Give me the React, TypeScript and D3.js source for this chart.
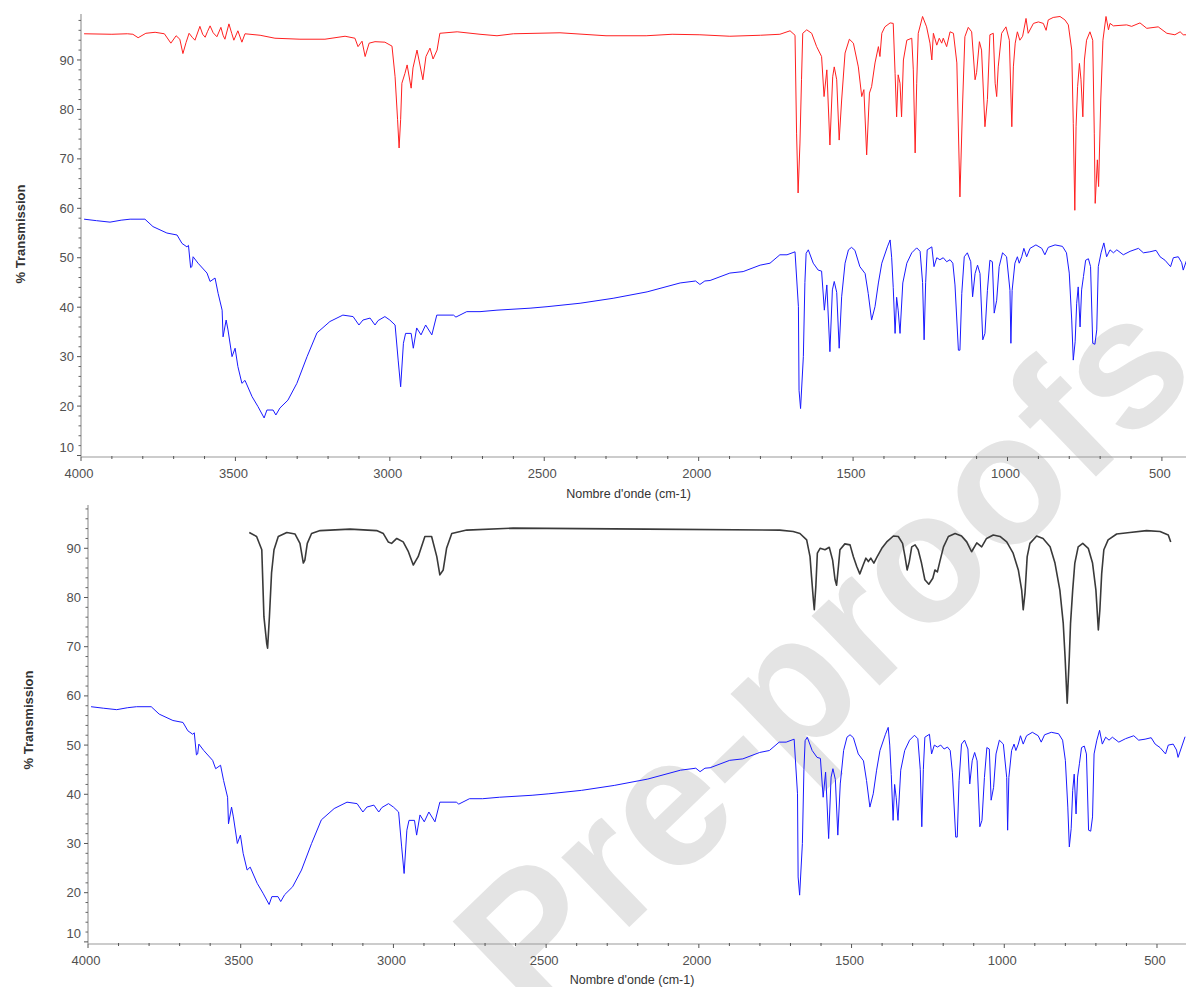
import React from 'react';
import * as d3 from 'd3';

type Pt = [number, number];

// Top panel, red spectrum (wavenumber cm-1, %T)
const redSpectrum: Pt[] = [
  [3990,95.3],[3900,95.2],[3850,95.3],[3832,95.2],[3815,94.5],[3790,95.4],[3760,95.6],[3730,95.3],[3709,93.4],[3692,94.9],
  [3680,94.2],[3670,91.3],[3660,93.5],[3650,95.4],[3640,94.6],[3631,94],[3615,96.8],[3606,95.2],[3598,94.6],[3590,95.8],
  [3582,96.9],[3572,95.5],[3560,94.7],[3547,96.6],[3540,95.0],[3534,94.2],[3521,97.3],[3512,95.4],[3505,94],[3492,95.9],
  [3479,93.6],[3469,95.3],[3420,95],[3372,94.4],[3291,94.2],[3210,94.2],[3145,94.8],[3113,94.4],[3103,92.7],[3090,93.8],
  [3080,90.7],[3067,93.4],[3048,93.7],[3016,93.6],[2993,92.8],[2983,86.6],[2975,78],[2970,72.2],[2965,78],[2961,85.3],
  [2951,87.3],[2944,89],[2931,84.3],[2925,88.4],[2912,92],[2893,86],[2883,90.7],[2870,92.4],[2860,90.2],[2847,92],
  [2838,95.4],[2782,95.7],[2708,95.2],[2653,94.9],[2600,95.3],[2449,95.5],[2300,94.9],[2170,94.9],[2086,95.2],[1996,95.1],
  [1899,94.8],[1800,95.0],[1737,95.2],[1704,95.9],[1688,95.0],[1683,75.2],[1678,63.1],[1672,73.2],[1667,86],[1663,95.4],
  [1650,96.1],[1634,95.4],[1618,92.7],[1602,90.7],[1594,82.6],[1585,88],[1575,72.8],[1566,86.6],[1561,88.6],[1553,86],
  [1545,73.8],[1537,81.9],[1526,91.4],[1512,94.2],[1499,93.4],[1483,88.6],[1472,82.6],[1465,84],[1456,70.8],[1447,83.3],
  [1440,84.6],[1429,89.4],[1418,92.7],[1413,90.7],[1407,95.4],[1397,96.7],[1380,97.5],[1370,97.4],[1364,87.3],[1359,78.5],
  [1354,87],[1348,85.3],[1343,78.5],[1337,90],[1326,94],[1310,94.4],[1305,88],[1299,71.2],[1294,85.3],[1289,95.4],
  [1275,98.8],[1262,96.7],[1251,93.4],[1245,90],[1240,95.4],[1229,93],[1221,94.4],[1213,93.4],[1208,94.4],[1197,92.7],
  [1186,95.7],[1175,95.4],[1164,89.4],[1154,62.3],[1145,81.9],[1138,94.7],[1127,96.6],[1116,95.7],[1105,86],[1100,87.5],
  [1091,93.7],[1084,92],[1073,76.5],[1065,82],[1057,95.1],[1046,95.4],[1040,85.3],[1035,82.6],[1030,88.6],[1019,95.4],
  [1005,96.7],[994,94],[986,76.5],[981,88.6],[975,93.4],[968,95.7],[960,94],[951,94.8],[940,98.4],[933,95.4],
  [916,97.4],[900,97.7],[884,97.4],[875,96],[868,98.1],[852,98.6],[830,98.8],[814,98.1],[803,97.1],[792,92],
  [787,77.2],[782,59.6],[778,76.5],[773,84.6],[767,89.3],[762,86],[756,78.5],[751,90],[744,94],[733,95.7],
  [724,94],[719,75.2],[716,61],[709,69.8],[705,64.4],[698,81.9],[691,94],[681,98.8],[673,96.1],[668,97.4],
  [657,96.9],[614,97.1],[598,96.8],[571,97.5],[549,96.4],[512,96.7],[484,95.4],[458,95.1],[441,95.7],[431,95.1],[422,95.1]
];

// Blue spectrum (same sample shown in both panels)
const blueSpectrum: Pt[] = [
  [3990,57.8],[3950,57.5],[3906,57.2],[3870,57.6],[3841,57.8],[3793,57.8],[3767,56.3],[3722,55.0],[3689,54.6],[3673,52.9],
  [3657,52.2],[3652,52.5],[3645,48.0],[3641,48.2],[3637,50.2],[3621,48.9],[3592,46.9],[3582,45.2],[3566,45.9],[3556,42.8],
  [3543,39.4],[3540,34.0],[3530,37.4],[3524,35.4],[3511,30.0],[3501,31.7],[3492,28.0],[3479,24.6],[3469,25.2],[3446,21.9],
  [3427,19.9],[3407,17.6],[3398,19.2],[3378,19.2],[3369,18.2],[3356,19.6],[3330,21.2],[3301,24.6],[3268,30.0],[3236,34.8],
  [3194,37.1],[3152,38.4],[3119,38.1],[3100,36.4],[3087,37.4],[3064,37.8],[3048,36.4],[3038,37.3],[3016,38.1],[3000,37.4],
  [2983,36.4],[2973,29.3],[2965,23.9],[2956,32.7],[2949,34.7],[2931,34.7],[2924,31.7],[2913,35.8],[2899,34.4],[2884,36.4],
  [2864,34.4],[2848,38.4],[2794,38.4],[2786,38.0],[2751,39.1],[2708,39.1],[2653,39.4],[2546,39.8],[2491,40.1],[2384,40.8],
  [2277,41.8],[2167,43.1],[2060,44.9],[2010,45.3],[1996,44.6],[1980,45.3],[1963,45.4],[1899,46.9],[1856,47.2],[1801,48.5],
  [1769,48.9],[1737,50.6],[1714,50.6],[1688,51.2],[1677,40.1],[1675,23.2],[1670,19.5],[1661,30],[1656,45],[1652,50.9],
  [1645,51.6],[1629,48.9],[1613,47.5],[1602,47.3],[1593,39.4],[1585,44.5],[1575,31.0],[1567,43.5],[1561,45.2],[1553,43],
  [1545,31.7],[1537,42.1],[1526,48.9],[1515,51.6],[1505,52.1],[1494,51.5],[1478,48.2],[1461,46.8],[1451,42.8],[1440,37.4],
  [1429,40.1],[1418,44.9],[1407,48.9],[1389,52.2],[1380,53.6],[1375,50],[1370,44],[1364,34.7],[1359,42],[1354,39.4],
  [1348,34.7],[1339,44.9],[1326,48.9],[1310,51],[1294,52],[1283,51.3],[1275,45],[1270,33.4],[1265,45],[1260,51.6],
  [1245,52.2],[1238,48.2],[1229,50],[1219,49.6],[1208,50],[1197,49.2],[1186,49.6],[1177,48.9],[1170,44.5],[1159,31.3],
  [1154,31.3],[1148,42.8],[1140,50.2],[1130,51],[1119,49.2],[1113,42.1],[1105,46.8],[1097,48.5],[1089,46.8],[1080,33.4],
  [1073,34.7],[1065,43.4],[1057,49.5],[1049,49.2],[1043,38.8],[1035,41.4],[1027,48.2],[1016,51],[1003,50.2],[992,43.4],
  [989,32.7],[985,43.4],[976,48.9],[968,50.2],[962,48.9],[954,50.2],[947,51.9],[938,50.2],[927,51.9],[908,52.6],
  [889,51.9],[879,50.6],[868,52.1],[846,52.6],[822,52.3],[809,51],[800,46.9],[792,37.4],[787,29.3],[781,33],
  [776,40.8],[771,44.1],[765,36.0],[760,43.5],[754,46.2],[747,49.5],[738,49.8],[731,48.2],[724,32.7],[717,32.5],
  [711,35.4],[706,48.2],[697,51],[688,53],[679,50.2],[668,51.6],[657,51],[646,51.6],[625,50.6],[603,51.3],
  [576,51.9],[560,51],[539,51.2],[519,51.5],[506,50.2],[490,49.5],[472,48.2],[463,50],[447,50.2],[436,49],
  [431,47.5],[408,51.7]
];

// Bottom panel, black spectrum
const blackSpectrum: Pt[] = [
  [3472,93.2],[3448,92.4],[3431,89.7],[3424,76.1],[3415,70.7],[3412,69.7],[3406,76.1],[3399,85],[3391,89.7],[3377,92.4],
  [3349,93.2],[3322,92.9],[3306,91],[3295,87],[3290,87.6],[3282,91],[3268,93],[3240,93.6],[3142,93.9],[3055,93.6],
  [3033,93],[3017,91.3],[3006,91],[2989,92],[2968,91.3],[2951,89.3],[2935,86.6],[2919,88.3],[2897,92.4],[2875,92.4],
  [2858,88.3],[2848,84.6],[2837,85.6],[2826,90],[2809,93],[2760,93.7],[2608,94.1],[2171,93.9],[1735,93.7],[1691,93.4],
  [1669,93],[1647,91.7],[1636,88.3],[1631,84.2],[1625,79.5],[1622,77.5],[1617,82.2],[1612,89],[1603,90],[1587,89.7],
  [1573,90.2],[1562,87.6],[1554,83.6],[1549,82.5],[1543,86.3],[1538,89.7],[1522,90.9],[1505,90.7],[1494,88.3],[1483,86.3],
  [1473,84.8],[1462,86.6],[1453,88],[1445,87.3],[1437,88],[1427,87],[1416,88.3],[1401,90],[1385,91.3],[1363,92.5],
  [1347,92.4],[1333,91],[1325,88.3],[1318,85.6],[1311,87.3],[1303,90.3],[1292,90.7],[1282,89.7],[1271,87],[1260,83.6],
  [1247,82.7],[1234,83.9],[1227,85.6],[1219,85.2],[1211,87.3],[1199,90.3],[1183,92.4],[1161,93],[1140,92.5],[1123,91.3],
  [1107,89.3],[1090,91.1],[1074,90.3],[1058,92],[1036,92.7],[1014,92.4],[992,91.3],[971,89],[954,85.6],[943,81.5],
  [938,77.5],[932,81],[925,88.3],[916,91],[894,92.5],[873,92],[850,90.3],[834,87],[818,81.5],[807,74.8],
  [801,68],[796,61.2],[794,58.5],[787,68],[783,74.8],[776,81.5],[769,87],[758,90.3],[743,91],[725,90],
  [711,87],[700,81.5],[692,73.4],[687,77.5],[681,84.9],[674,89.7],[660,91.7],[632,92.9],[589,93.2],[534,93.6],
  [490,93.4],[463,92.7],[455,91.3]
];

const xMajorTicks = [4000, 3500, 3000, 2500, 2000, 1500, 1000, 500];
const yMajorTicks = [10, 20, 30, 40, 50, 60, 70, 80, 90];
const xAxisTitle = "Nombre d'onde (cm-1)";
const yAxisTitle = '% Transmission';
const watermarkText = 'Pre-proofs';

type Series = { data: Pt[]; color: string; width: number };

type PanelProps = {
  id: string;
  left: number;
  right: number;
  top: number;
  bottom: number;
  xDomain: [number, number];
  yDomain: [number, number];
  series: Series[];
  yTitleX: number;
  yTitleY: number;
  xTitleY: number;
};

const FONT = "'Liberation Sans', Arial, sans-serif";

function Panel(p: PanelProps) {
  const x = d3.scaleLinear().domain(p.xDomain).range([p.left, p.right]);
  const y = d3.scaleLinear().domain(p.yDomain).range([p.bottom, p.top]);
  const line = d3.line<Pt>().x(d => x(d[0])).y(d => y(d[1]));
  const xMinor = d3.range(500, 4001, 100).filter(v => v % 500 !== 0 && v <= p.xDomain[0] && v >= p.xDomain[1]);
  const yMinor = d3.range(10, 100, 2).filter(v => v % 10 !== 0 && v >= p.yDomain[0] && v <= p.yDomain[1]);
  const clipId = `clip-${p.id}`;
  return (
    <g>
      <defs>
        <clipPath id={clipId}>
          <rect x={p.left} y={p.top - 2} width={p.right - p.left} height={p.bottom - p.top + 2} />
        </clipPath>
      </defs>
      <line x1={p.left} x2={p.left} y1={p.top} y2={p.bottom} stroke="#9a9a9a" strokeWidth={1.2} />
      <line x1={p.left} x2={p.right} y1={p.bottom} y2={p.bottom} stroke="#9a9a9a" strokeWidth={1.2} />
      {yMajorTicks.map(v => (
        <g key={`ym${v}`}>
          <line x1={p.left - 4} x2={p.left} y1={y(v)} y2={y(v)} stroke="#555" strokeWidth={1} />
          <text x={p.left - 7} y={y(v) + (v === 10 ? -8 : 0)} dy="0.35em" textAnchor="end"
            fontFamily={FONT} fontSize={13} fill="#505050">{v}</text>
        </g>
      ))}
      {yMinor.map(v => (
        <line key={`yn${v}`} x1={p.left - 2.5} x2={p.left} y1={y(v)} y2={y(v)} stroke="#666" strokeWidth={1} />
      ))}
      {xMajorTicks.map(v => (
        <g key={`xm${v}`}>
          <line x1={x(v)} x2={x(v)} y1={p.bottom} y2={p.bottom + 4} stroke="#555" strokeWidth={1} />
          <text x={x(v) - 2} y={p.bottom + 21} textAnchor="middle" fontFamily={FONT} fontSize={13} fill="#505050">{v}</text>
        </g>
      ))}
      {xMinor.map(v => (
        <line key={`xn${v}`} x1={x(v)} x2={x(v)} y1={p.bottom - 1} y2={p.bottom + 2} stroke="#555" strokeWidth={1} />
      ))}
      <text x={(p.left + p.right) / 2 - 5} y={p.xTitleY} textAnchor="middle" fontFamily={FONT} fontSize={12.5} fill="#333">
        {xAxisTitle}
      </text>
      <text transform={`translate(${p.yTitleX},${p.yTitleY}) rotate(-90)`} textAnchor="middle" dy="0.35em"
        fontFamily={FONT} fontSize={13} fontWeight="bold" fill="#333">
        {yAxisTitle}
      </text>
      <g clipPath={`url(#${clipId})`}>
        {p.series.map((s, i) => (
          <path key={i} d={line(s.data) || ''} fill="none" stroke={s.color} strokeWidth={s.width} strokeLinejoin="round" />
        ))}
      </g>
    </g>
  );
}

export default function App() {
  return (
    <svg width={1186} height={987} style={{ position: 'absolute', left: 0, top: 0, background: '#fff' }}
      xmlns="http://www.w3.org/2000/svg">
      <rect x={0} y={0} width={1186} height={987} fill="#fff" />
      <text transform="translate(822,652) rotate(-44)" textAnchor="middle" dominantBaseline="central"
        fontFamily={FONT} fontSize={184} fontWeight="bold" fill="#e4e4e4">{watermarkText}</text>
      <Panel id="top" left={81} right={1186} top={14} bottom={457} xDomain={[4000, 422]} yDomain={[9.7, 99.3]}
        series={[
          { data: redSpectrum, color: '#ff2020', width: 1 },
          { data: blueSpectrum, color: '#1a1aff', width: 1 },
        ]}
        yTitleX={20} yTitleY={234} xTitleY={498} />
      <Panel id="bottom" left={88} right={1186} top={505} bottom={944} xDomain={[4000, 405]} yDomain={[9.57, 98.8]}
        series={[
          { data: blackSpectrum, color: '#3a3a3a', width: 1.6 },
          { data: blueSpectrum, color: '#1a1aff', width: 1 },
        ]}
        yTitleX={28} yTitleY={720} xTitleY={984} />
    </svg>
  );
}
